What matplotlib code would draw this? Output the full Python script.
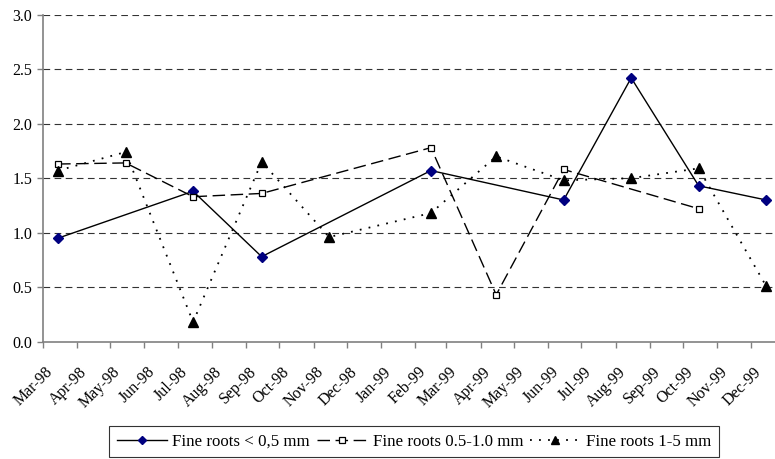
import matplotlib
matplotlib.use("Agg")
import matplotlib.pyplot as plt
import matplotlib.transforms as mtransforms
import datetime as dt

plt.rcParams['font.family'] = ['Liberation Serif', 'DejaVu Serif']

# Data
dates_s1 = ["1998-03-15", "1998-07-15", "1998-09-15", "1999-02-15", "1999-06-15",
            "1999-08-15", "1999-10-15", "1999-12-15"]
vals_s1 = [0.95, 1.38, 0.78, 1.57, 1.30, 2.42, 1.43, 1.30]

dates_s2 = ["1998-03-15", "1998-05-15", "1998-07-15", "1998-09-15", "1999-02-15",
            "1999-04-15", "1999-06-15", "1999-10-15"]
vals_s2 = [1.63, 1.64, 1.33, 1.36, 1.78, 0.43, 1.58, 1.22]

dates_s3 = ["1998-03-15", "1998-05-15", "1998-07-15", "1998-09-15", "1998-11-15",
            "1999-02-15", "1999-04-15", "1999-06-15", "1999-08-15", "1999-10-15",
            "1999-12-15"]
vals_s3 = [1.57, 1.74, 0.18, 1.65, 0.96, 1.18, 1.70, 1.48, 1.50, 1.59, 0.51]

labels = ["Fine roots < 0,5 mm", "Fine roots 0.5-1.0 mm", "Fine roots 1-5 mm"]
month_ticks = ["Mar-98", "Apr-98", "May-98", "Jun-98", "Jul-98", "Aug-98", "Sep-98",
               "Oct-98", "Nov-98", "Dec-98", "Jan-99", "Feb-99", "Mar-99", "Apr-99",
               "May-99", "Jun-99", "Jul-99", "Aug-99", "Sep-99", "Oct-99", "Nov-99",
               "Dec-99"]
yticks = [0.0, 0.5, 1.0, 1.5, 2.0, 2.5, 3.0]

def to_dates(lst):
    return [dt.datetime.strptime(s, "%Y-%m-%d") for s in lst]

fig = plt.figure(figsize=(7.75, 4.59), dpi=100)
ax = fig.add_axes([0.055, 0.2556, 0.945, 0.7124])

ax.plot(to_dates(dates_s1), vals_s1, color='black', lw=1.0, linestyle='-',
        marker='D', markersize=5.5, markerfacecolor='#000080', markeredgecolor='#000080',
        label=labels[0])
ax.plot(to_dates(dates_s2), vals_s2, color='black', lw=1.0, linestyle=(0, (9, 4)),
        marker='s', markersize=5, markerfacecolor='white', markeredgecolor='black',
        markeredgewidth=0.9, label=labels[1])
ax.plot(to_dates(dates_s3), vals_s3, color='black', lw=1.3, linestyle=(0, (1, 4)),
        marker='^', markersize=6.5, markerfacecolor='black', markeredgecolor='black',
        label=labels[2])

# axes
start = dt.datetime(1998, 3, 1)
ax.set_xlim(start, start + dt.timedelta(days=662))
ax.set_ylim(0, 3.0)

for v in yticks[1:]:
    ax.axhline(v, color='#333333', lw=0.8, linestyle=(0, (6, 4)), zorder=0)

for s in ['top', 'right']:
    ax.spines[s].set_visible(False)
for s in ['left', 'bottom']:
    ax.spines[s].set_color('#808080')
    ax.spines[s].set_linewidth(1.2)
ax.tick_params(axis='both', direction='out', length=4, color='#808080', width=1.0)
ax.tick_params(axis='x', pad=6)

ax.set_yticks(yticks)
ax.set_yticklabels([f"{v:.1f}" for v in yticks], fontsize=11.5)

tick_dates = []
y, m = 1998, 3
for _ in month_ticks:
    tick_dates.append(dt.datetime(y, m, 1))
    m += 1
    if m > 12:
        m = 1
        y += 1
ax.set_xticks(tick_dates)
ax.set_xticklabels(month_ticks, rotation=45, ha='right', va='center',
                   rotation_mode='anchor', fontsize=11.5)
offset = mtransforms.ScaledTranslation(8 / 100, -14 / 100, fig.dpi_scale_trans)
for tick in ax.xaxis.get_major_ticks():
    tick.label1.set_transform(tick.label1.get_transform() + offset)

leg = fig.legend(loc='lower center', bbox_to_anchor=(0.534, 0.0), ncol=3, frameon=True,
                 fancybox=False, edgecolor='black', fontsize=12.2, handlelength=3.0,
                 columnspacing=0.4, handletextpad=0.3, borderpad=0.45, markerscale=0.8,
                 borderaxespad=0.1)
leg.get_frame().set_linewidth(0.8)

fig.savefig("out.png", dpi=100)
